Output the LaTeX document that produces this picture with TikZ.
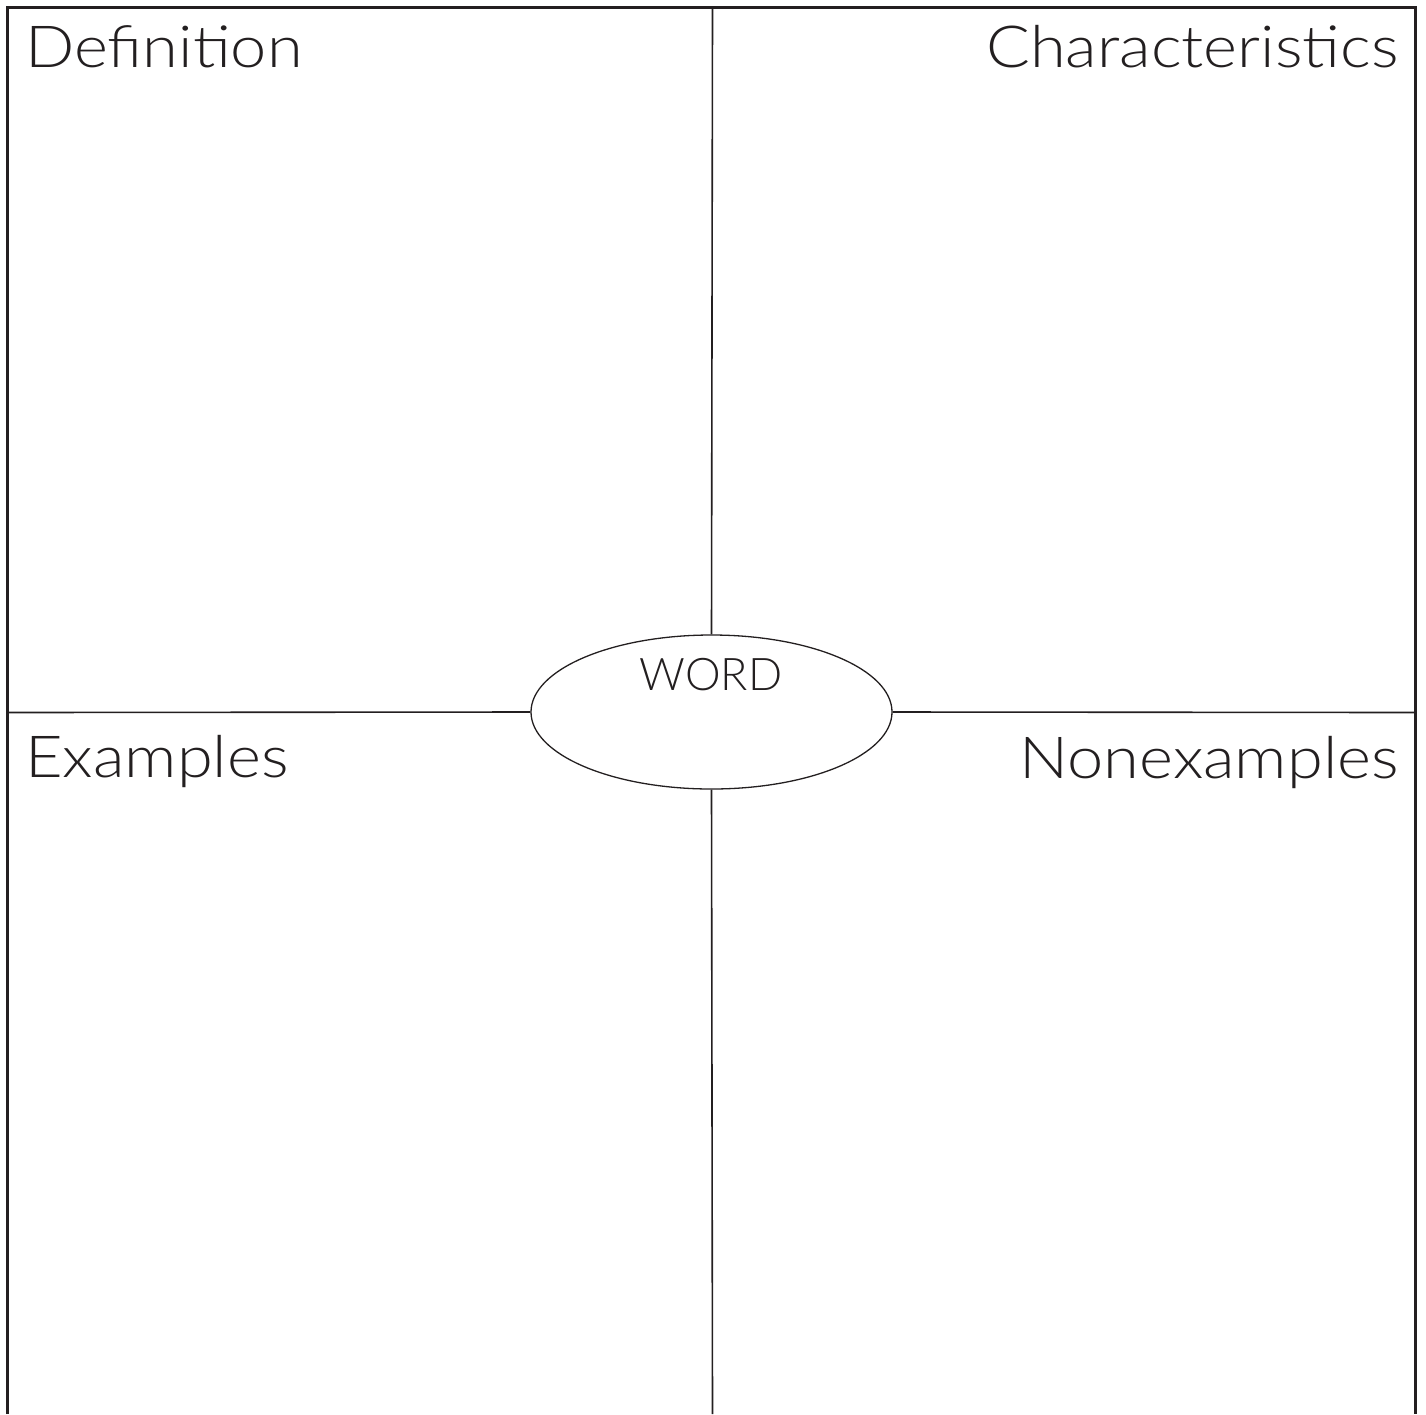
\documentclass[tikz,border=0pt]{standalone}
\usepackage{fontspec}
\setmainfont{Lato}[UprightFont={* Light}]
\newfontfamily\headfont{Lato}[UprightFont={* Light}, FakeStretch=1.12]
\usetikzlibrary{shapes.geometric}
\definecolor{ink}{HTML}{231F20}
\tikzset{
  frame/.style={draw=ink, line width=3pt},
  divider/.style={draw=ink, line width=1.6pt},
  heading/.style={inner sep=0pt, text=ink, font=\headfont\fontsize{58}{60}\selectfont},
  wordoval/.style={ellipse, draw=ink, line width=1.3pt, minimum width=361pt, minimum height=154pt, inner sep=0pt},
  wordtext/.style={inner sep=0pt, text=ink, font=\fontsize{45}{48}\selectfont}
}
\begin{document}
\begin{tikzpicture}[x=1pt,y=-1pt]
\useasboundingbox (0,0) rectangle (1426,1414);
% outer frame (open at bottom)
\coordinate (bl) at (7.5,1414);
\coordinate (tl) at (7.5,7);
\coordinate (tr) at (1415.5,7);
\coordinate (br) at (1415.5,1414);
\draw[frame] (bl) -- (tl) -- (tr) -- (br);
% centre word
\node[wordoval] (word) at (711.5,712) {};
\node[wordtext, anchor=base] (wordlbl) at (711,690) {WORD};
% dividers
\coordinate (midl) at (7.5,712.5);
\coordinate (midr) at (1415.5,712.5);
\coordinate (midt) at (712.5,7);
\coordinate (midb) at (712.5,1414);
\draw[divider] (midl) -- (word.west);
\draw[divider] (word.east) -- (midr);
\draw[divider] (midt) -- (word.north);
\draw[divider] (word.south) -- (midb);
% headings
\node[heading, anchor=base west] (def) at (25,67) {Definition};
\node[heading, anchor=base east] (char) at (1399,67) {Characteristics};
\node[heading, anchor=base west] (ex) at (25,777) {Examples};
\node[heading, anchor=base east] (nonex) at (1399,778) {Nonexamples};
\end{tikzpicture}
\end{document}
